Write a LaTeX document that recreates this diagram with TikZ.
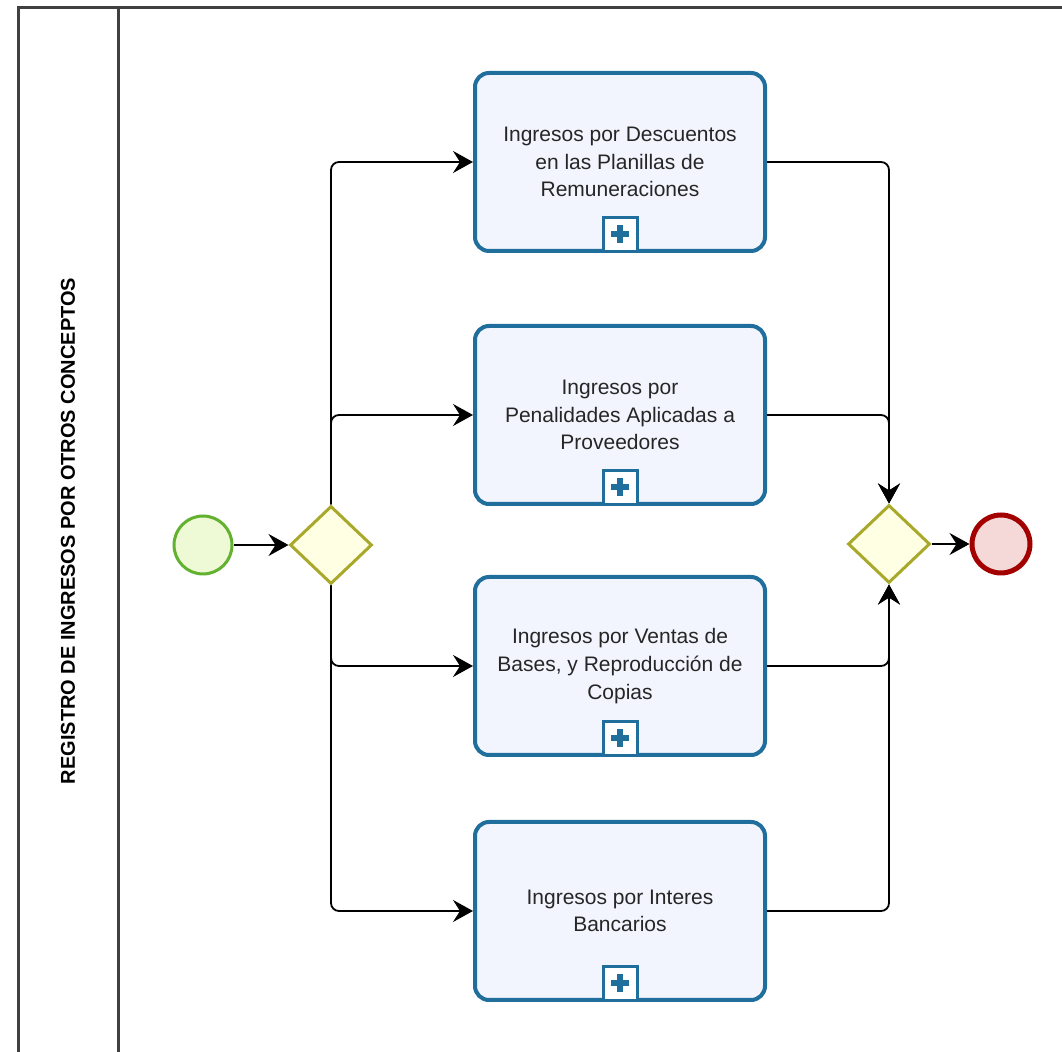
\documentclass[tikz,border=0pt]{standalone}
\usepackage{fontspec}
\setmainfont{Liberation Sans}
\usetikzlibrary{shapes.geometric,arrows.meta,positioning}

\definecolor{taskblue}{HTML}{1F6E9C}
\definecolor{taskfill}{HTML}{F2F5FD}
\definecolor{gateline}{HTML}{A8A82A}
\definecolor{gatefill}{HTML}{FFFFE4}
\definecolor{startline}{HTML}{62B22F}
\definecolor{startfill}{HTML}{EEFAD6}
\definecolor{endline}{HTML}{A30000}
\definecolor{endfill}{HTML}{F5D8D8}
\definecolor{poolline}{HTML}{404040}

\begin{document}
\begin{tikzpicture}[x=0.5pt,y=-0.5pt]
\tikzstyle{task}=[rectangle,draw=taskblue,fill=taskfill,line width=2pt,
rounded corners=7pt,minimum width=145pt,minimum height=89pt,
align=center,text=black!85,font=\fontsize{10.5}{13.8}\selectfont]
\tikzstyle{plusbox}=[rectangle,draw=taskblue,fill=white,line width=1.5pt,
minimum size=17pt,inner sep=0pt,anchor=south,
path picture={\draw[taskblue,line width=3pt]
 (path picture bounding box.center) +(-4.5pt,0) -- +(4.5pt,0)
 (path picture bounding box.center) +(0,-4.5pt) -- +(0,4.5pt);}]
\tikzstyle{gateway}=[diamond,draw=gateline,fill=gatefill,line width=1.5pt,
inner sep=0pt,minimum width=41pt,minimum height=39pt]
\tikzstyle{startev}=[circle,draw=startline,fill=startfill,line width=1.5pt,
minimum size=29pt,inner sep=0pt]
\tikzstyle{endev}=[circle,draw=endline,fill=endfill,line width=2.5pt,
minimum size=29pt,inner sep=0pt]
\tikzstyle{flow}=[-{Stealth[length=10pt,width=11pt,inset=3.5pt]},line width=0.9pt,
rounded corners=4pt]

\useasboundingbox (0,0) rectangle (1062,1052);
\clip (0,0) rectangle (1062,1052);

% pool and lane
\draw[poolline,line width=1.5pt] (18,8) rectangle (1100,1100);
\draw[poolline,line width=1.5pt] (118,8) -- (118,1100);
\node[rotate=90,font=\bfseries\fontsize{10}{12}\selectfont] (lane) at (68,531)
 {REGISTRO DE INGRESOS POR OTROS CONCEPTOS};

% events and gateways
\node[startev] at (203,545) (s) {};
\node[gateway,right of =s,node distance=64pt] (g1) {};
\node[gateway] at (889,544) (g2) {};
\node[endev,right of =g2,node distance=56pt] (e) {};

% tasks
\node[task] at (620,162) (t1) {Ingresos por Descuentos\\en las Planillas de\\Remuneraciones};
\node[task,below of =t1,node distance=126.5pt] (t2) {Ingresos por\\Penalidades Aplicadas a\\Proveedores};
\node[task,below of =t2,node distance=125.5pt] (t3) {Ingresos por Ventas de\\Bases, y Reproducción de\\Copias};
\node[task,below of =t3,node distance=122.5pt] (t4) {Ingresos por Interes\\Bancarios};

\node[plusbox] at (t1.south) (p1) {};
\node[plusbox] at (t2.south) (p2) {};
\node[plusbox] at (t3.south) (p3) {};
\node[plusbox] at (t4.south) (p4) {};

% sequence flows
\draw[flow] (s) -- (g1);
\draw[flow] (g1.north) |- (t1.west);
\draw[flow] (g1.north) |- (t2.west);
\draw[flow] (g1.south) |- (t3.west);
\draw[flow] (g1.south) |- (t4.west);
\draw[flow] (t1.east) -| (g2.north);
\draw[flow] (t2.east) -| (g2.north);
\draw[flow] (t3.east) -| (g2.south);
\draw[flow] (t4.east) -| (g2.south);
\draw[flow] (g2) -- (e);

\end{tikzpicture}
\end{document}
